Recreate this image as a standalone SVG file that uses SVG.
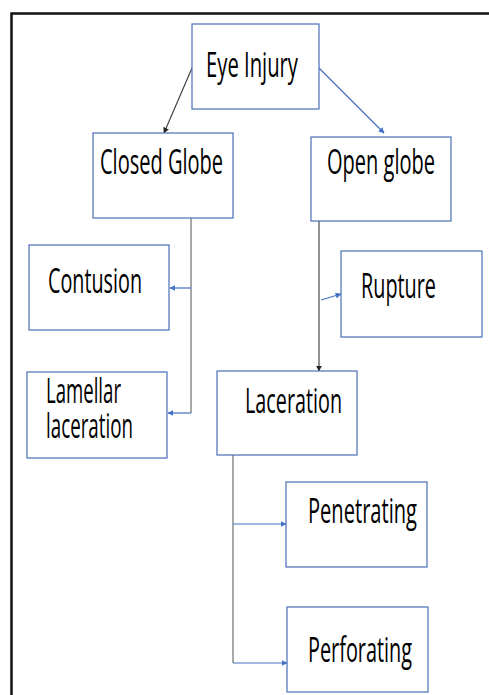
<svg xmlns="http://www.w3.org/2000/svg" width="489" height="695" viewBox="0 0 489 695">
<style>
.box{fill:#fff;stroke:#4a6fb8;stroke-width:1.2}
.t{font-family:"Open Sans","Liberation Sans",sans-serif;font-size:34px;fill:#000}
.gl{fill:none;stroke:#6e6e6e;stroke-width:1.2}
.dl{fill:none;stroke:#3a3a3a;stroke-width:1.1}
.bl{fill:none;stroke:#4472c4;stroke-width:1.2}
</style>
<defs>
<marker id="ab" viewBox="0 0 10 10" refX="9" refY="5" markerWidth="6" markerHeight="6" markerUnits="userSpaceOnUse" orient="auto"><path d="M0,0L10,5L0,10z" fill="#4472c4"/></marker>
<marker id="ak" viewBox="0 0 10 10" refX="9" refY="5" markerWidth="6" markerHeight="6" markerUnits="userSpaceOnUse" orient="auto"><path d="M0,0L10,5L0,10z" fill="#222"/></marker>
</defs>
<rect width="489" height="695" fill="#fff"/>
<path d="M11.5,695V13.5H489" fill="none" stroke="#111" stroke-width="2.5"/>
<g id="connectors">
<line class="dl" x1="192" y1="68" x2="164" y2="133" marker-end="url(#ak)"/>
<line class="bl" x1="319" y1="68" x2="384" y2="133" marker-end="url(#ab)"/>
<path class="gl" d="M191,218V413"/>
<line class="bl" x1="191" y1="288" x2="170" y2="288" marker-end="url(#ab)"/>
<line class="bl" x1="191" y1="413" x2="168" y2="413" marker-end="url(#ab)"/>
<line class="dl" x1="319" y1="221" x2="319" y2="371" marker-end="url(#ak)"/>
<line class="bl" x1="321" y1="300" x2="341" y2="294" marker-end="url(#ab)"/>
<path class="gl" d="M233,455V663"/>
<line class="bl" x1="233" y1="524" x2="286" y2="524" marker-end="url(#ab)"/>
<line class="bl" x1="233" y1="663" x2="287" y2="663" marker-end="url(#ab)"/>
</g>
<g id="eye-injury"><rect class="box" x="192" y="24" width="127" height="85"/><text class="t" x="206" y="77" textLength="92" lengthAdjust="spacingAndGlyphs">Eye Injury</text></g>
<g id="closed-globe"><rect class="box" x="93" y="133" width="140" height="85"/><text class="t" x="100" y="174" textLength="123" lengthAdjust="spacingAndGlyphs">Closed Globe</text></g>
<g id="open-globe"><rect class="box" x="311" y="137" width="140" height="84"/><text class="t" x="327" y="174" textLength="108" lengthAdjust="spacingAndGlyphs">Open globe</text></g>
<g id="contusion"><rect class="box" x="29" y="245" width="140" height="85"/><text class="t" x="48" y="293" textLength="94" lengthAdjust="spacingAndGlyphs">Contusion</text></g>
<g id="rupture"><rect class="box" x="341" y="251" width="141" height="86"/><text class="t" x="361" y="298" textLength="75" lengthAdjust="spacingAndGlyphs">Rupture</text></g>
<g id="lamellar-laceration"><rect class="box" x="27" y="372" width="140" height="86"/><text class="t" x="46" y="403" textLength="75" lengthAdjust="spacingAndGlyphs">Lamellar</text><text class="t" x="46" y="438" textLength="87" lengthAdjust="spacingAndGlyphs">laceration</text></g>
<g id="laceration"><rect class="box" x="217" y="371" width="140" height="84"/><text class="t" x="245" y="413" textLength="97" lengthAdjust="spacingAndGlyphs">Laceration</text></g>
<g id="penetrating"><rect class="box" x="286" y="482" width="141" height="85"/><text class="t" x="308" y="523" textLength="109" lengthAdjust="spacingAndGlyphs">Penetrating</text></g>
<g id="perforating"><rect class="box" x="287" y="607" width="141" height="85"/><text class="t" x="308" y="662" textLength="104" lengthAdjust="spacingAndGlyphs">Perforating</text></g>
</svg>
